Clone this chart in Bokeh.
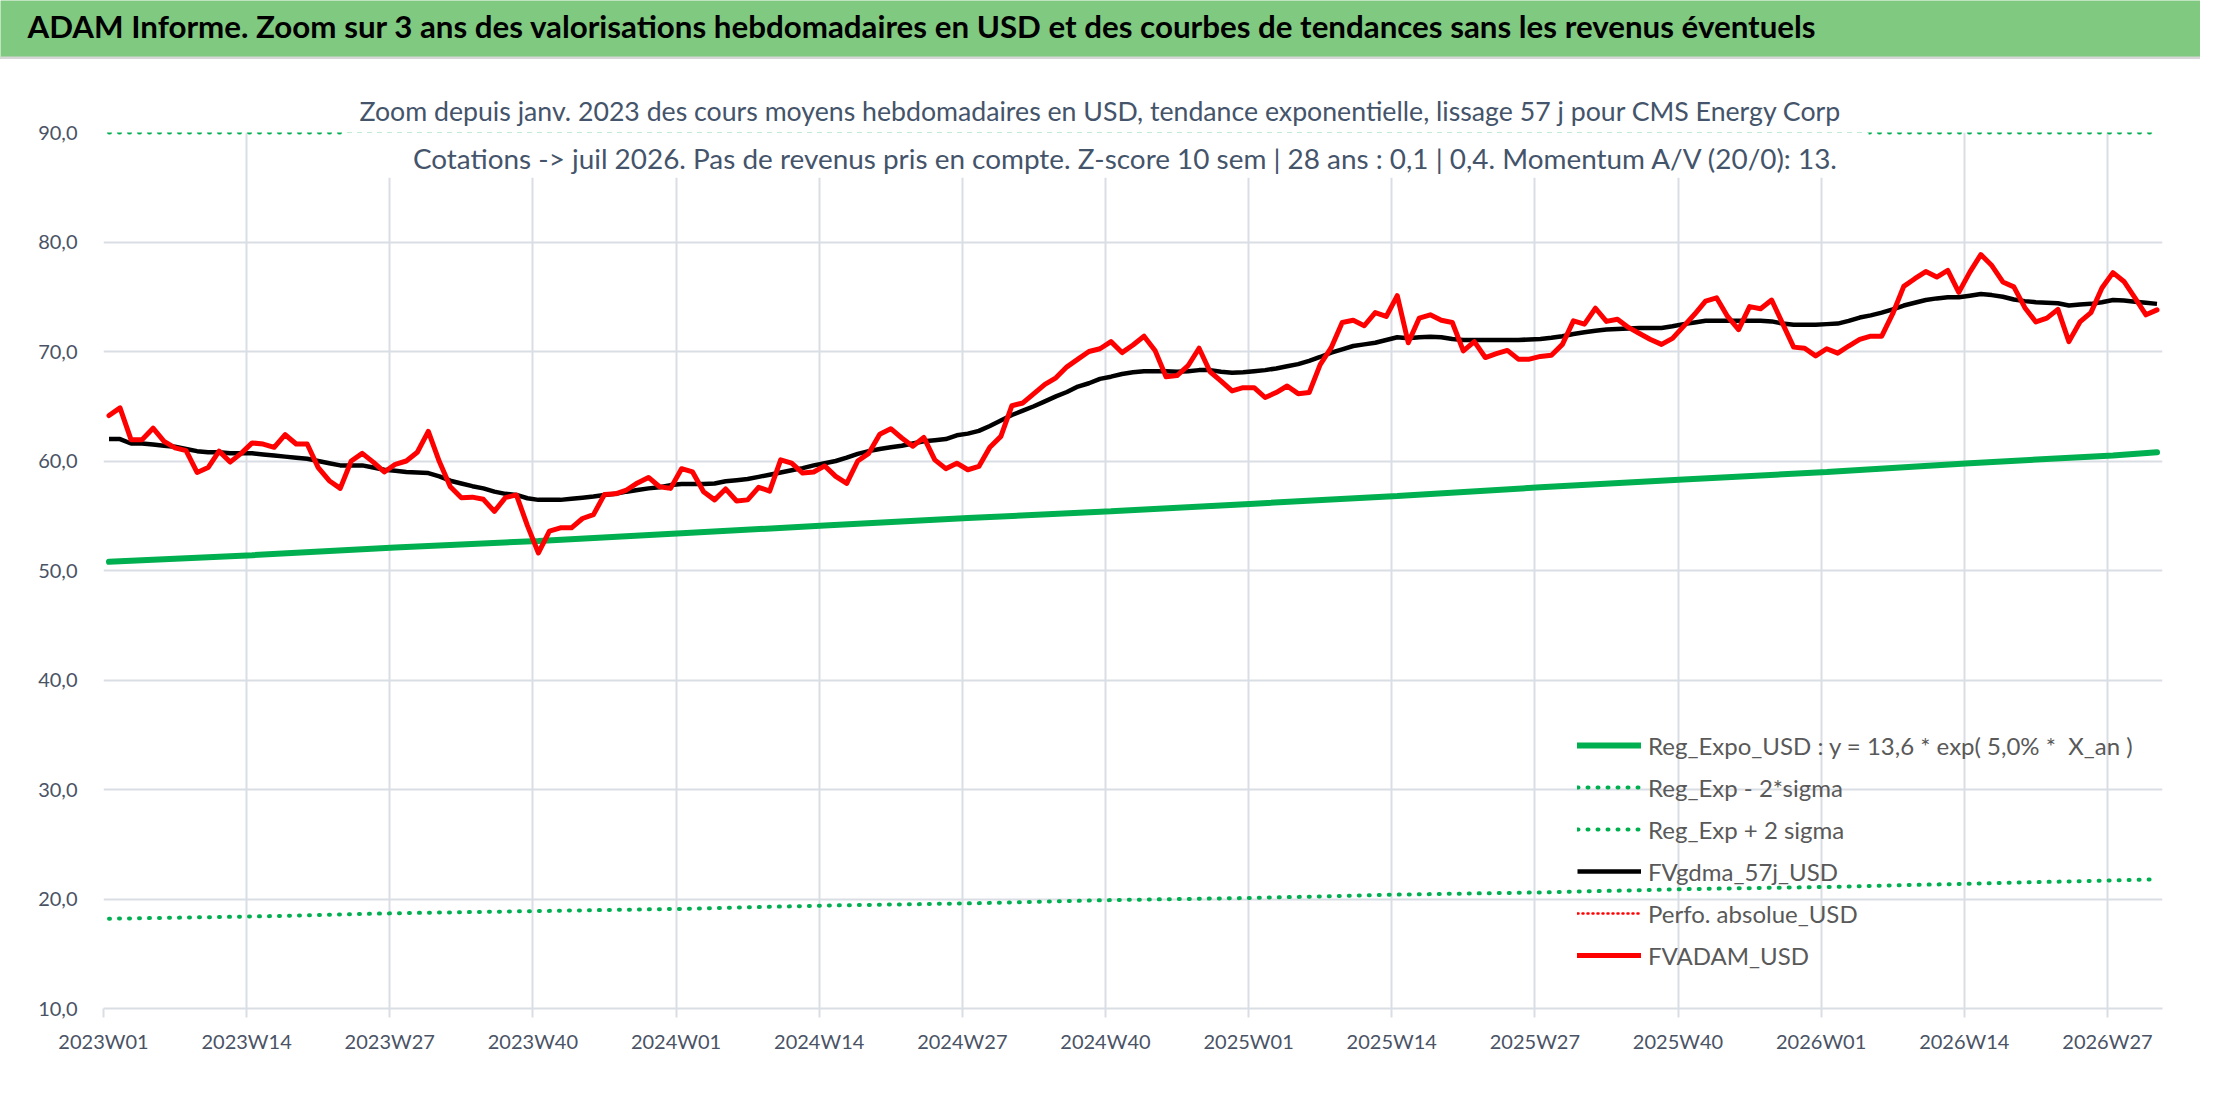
from bokeh.plotting import figure
from bokeh.models import (ColumnDataSource, Range1d, FixedTicker, Legend, LegendItem,
                          Label, BoxAnnotation, Title)
from bokeh.layouts import column
from bokeh.embed import file_html
from bokeh.resources import INLINE

FONT = "Lato"
GRID = "#D9DDE4"
TICK_TXT = "#4A5365"
LEG_TXT = "#595959"
SUB_TXT = "#44546A"

bar_title = ("ADAM Informe. Zoom sur 3 ans des valorisations hebdomadaires en USD "
             "et des courbes de tendances sans les revenus éventuels")
sub1 = ("Zoom depuis janv. 2023 des cours moyens hebdomadaires en USD, tendance "
        "exponentielle, lissage 57 j pour CMS Energy Corp")
sub2 = ("Cotations -> juil 2026. Pas de revenus pris en compte. Z-score 10 sem | "
        "28 ans : 0,1 | 0,4. Momentum A/V (20/0): 13.")

# weekly categories 2023W01 .. 2026W31
weeks = [f"{yr}W{w:02d}" for yr, n in ((2023, 52), (2024, 52), (2025, 52), (2026, 31))
         for w in range(1, n + 1)]

# FVADAM_USD (red)
fvadam = [
    64.15, 64.85, 61.95, 61.95, 63.0, 61.8, 61.2, 60.95, 58.95, 59.4,
    60.9, 59.9, 60.7, 61.65, 61.55, 61.25, 62.4, 61.55, 61.55, 59.4,
    58.2, 57.5, 60.0, 60.7, 59.9, 59.0, 59.7, 60.0, 60.8, 62.7,
    59.95, 57.65, 56.65, 56.7, 56.5, 55.4, 56.65, 56.9, 54.1, 51.6,
    53.6, 53.9, 53.9, 54.75, 55.1, 56.95, 57.0, 57.35, 58.0, 58.5,
    57.65, 57.5, 59.3, 59.0, 57.2, 56.45, 57.45, 56.35, 56.45, 57.6,
    57.25, 60.1, 59.8, 58.9, 59.0, 59.55, 58.6, 57.95, 60.0, 60.7,
    62.45, 62.95, 62.1, 61.35, 62.15, 60.1, 59.3, 59.8, 59.2, 59.5,
    61.25, 62.25, 65.05, 65.3, 66.15, 67.0, 67.6, 68.6, 69.3, 70.0,
    70.25, 70.9, 69.9, 70.6, 71.4, 70.1, 67.7, 67.8, 68.7, 70.3,
    68.15, 67.3, 66.4, 66.7, 66.7, 65.8, 66.25, 66.85, 66.15, 66.25,
    68.8, 70.35, 72.65, 72.85, 72.35, 73.55, 73.2, 75.1, 70.8, 73.05,
    73.35, 72.85, 72.65, 70.05, 70.9, 69.45, 69.8, 70.1, 69.3, 69.3,
    69.55, 69.65, 70.65, 72.8, 72.5, 73.95, 72.75, 72.95, 72.2, 71.65,
    71.1, 70.65, 71.2, 72.3, 73.4, 74.6, 74.9, 73.2, 72.0, 74.1,
    73.9, 74.7, 72.55, 70.4, 70.3, 69.6, 70.25, 69.85, 70.5, 71.1,
    71.4, 71.4, 73.45, 75.95, 76.65, 77.3, 76.8, 77.4, 75.4, 77.25,
    78.85, 77.85, 76.35, 75.9, 74.0, 72.7, 73.05, 73.85, 70.9, 72.7,
    73.55, 75.8, 77.2, 76.4, 74.9, 73.35, 73.8,
]

# FVgdma_57j_USD (black)
fvgdma = [
    62.0, 62.0, 61.6, 61.6, 61.5, 61.4, 61.3, 61.1, 60.9, 60.8,
    60.8, 60.7, 60.7, 60.7, 60.6, 60.5, 60.4, 60.3, 60.2, 60.0,
    59.8, 59.6, 59.6, 59.6, 59.4, 59.2, 59.1, 59.0, 58.95, 58.9,
    58.6, 58.2, 57.95, 57.7, 57.5, 57.2, 57.0, 56.9, 56.6, 56.45,
    56.45, 56.45, 56.55, 56.65, 56.75, 56.9, 57.0, 57.2, 57.35, 57.5,
    57.6, 57.8, 57.9, 57.9, 57.9, 57.95, 58.15, 58.25, 58.35, 58.55,
    58.75, 58.95, 59.15, 59.35, 59.6, 59.8, 60.0, 60.3, 60.65, 60.9,
    61.1, 61.25, 61.4, 61.6, 61.8, 61.9, 62.0, 62.35, 62.5, 62.75,
    63.2, 63.7, 64.2, 64.6, 65.0, 65.45, 65.9, 66.3, 66.8, 67.1,
    67.5, 67.7, 67.95, 68.1, 68.2, 68.2, 68.2, 68.15, 68.2, 68.3,
    68.3, 68.15, 68.05, 68.1, 68.2, 68.3, 68.45, 68.65, 68.85, 69.15,
    69.5, 69.9, 70.2, 70.5, 70.65, 70.8, 71.05, 71.3, 71.2, 71.3,
    71.35, 71.3, 71.15, 71.05, 71.05, 71.05, 71.05, 71.05, 71.05, 71.1,
    71.15, 71.25, 71.4, 71.6, 71.75, 71.9, 72.0, 72.05, 72.1, 72.15,
    72.15, 72.15, 72.3, 72.5, 72.65, 72.8, 72.8, 72.8, 72.8, 72.8,
    72.8, 72.75, 72.55, 72.45, 72.45, 72.45, 72.5, 72.55, 72.8, 73.1,
    73.3, 73.55, 73.85, 74.2, 74.45, 74.7, 74.85, 74.95, 74.95, 75.1,
    75.25, 75.15, 75.0, 74.75, 74.6, 74.5, 74.45, 74.4, 74.2, 74.3,
    74.35, 74.5, 74.7, 74.65, 74.55, 74.45, 74.35,
]

# regression curves, read every 13 weeks plus the last week
reg_idx = [0, 13, 26, 39, 52, 65, 78, 91, 104, 117, 130, 143, 156, 169, 182, 186]
reg_expo = [50.8, 51.4, 52.1, 52.7, 53.4, 54.1, 54.8, 55.4, 56.1, 56.8,
            57.6, 58.3, 59.0, 59.8, 60.5, 60.8]
reg_low = [18.2, 18.4, 18.7, 18.9, 19.1, 19.4, 19.6, 19.9, 20.1, 20.4,
           20.6, 20.9, 21.1, 21.4, 21.7, 21.8]
reg_high = [90.0, 90.0, 90.0, 90.0, 90.0, 90.0, 90.0, 90.0, 90.0, 90.0,
            90.0, 90.0, 90.0, 90.0, 90.0, 90.0]
# Perfo. absolue_USD: no point inside the visible scale
perfo = [float("nan")]

y_ticks = [10, 20, 30, 40, 50, 60, 70, 80, 90]
y_labels = ["10,0", "20,0", "30,0", "40,0", "50,0", "60,0", "70,0", "80,0", "90,0"]
x_ticks = list(range(0, len(weeks), 13))

# ---- green header bar
head = figure(width=2200, height=59, x_range=Range1d(0, 2200), y_range=Range1d(0, 59),
              toolbar_location=None, output_backend="svg", min_border=0,
              x_axis_location=None, y_axis_location=None)
head.frame_align = False
head.grid.visible = False
head.background_fill_color = "#80C980"
head.border_fill_color = "#80C980"
head.outline_line_color = None
head.add_layout(BoxAnnotation(bottom=0, top=3, fill_color="#D6D6D6", fill_alpha=1,
                              line_color=None))
head.add_layout(Label(x=27, y=34, text=bar_title, text_font=FONT, text_font_style="bold",
                      text_font_size="31.3px", text_color="black", text_baseline="middle"))

# ---- main chart
p = figure(width=2200, height=1027, x_range=Range1d(0, len(weeks)), y_range=Range1d(10, 90),
           toolbar_location=None, output_backend="svg",
           min_border_left=103, min_border_right=38, min_border_top=73, min_border_bottom=78)
p.frame_align = False
p.outline_line_color = None
p.background_fill_color = "white"

t1 = Title(text=sub1, align="left", offset=256, standoff=11, text_font=FONT,
           text_font_size="26.7px", text_font_style="normal", text_color=SUB_TXT)
p.add_layout(t1, "above")

p.grid.grid_line_color = GRID
p.grid.grid_line_width = 2
p.xaxis.ticker = FixedTicker(ticks=x_ticks)
p.xaxis.major_label_overrides = {t: weeks[t] for t in x_ticks}
p.yaxis.ticker = FixedTicker(ticks=y_ticks)
p.yaxis.major_label_overrides = dict(zip(y_ticks, y_labels))

p.axis.major_label_text_font = FONT
p.axis.major_label_text_font_size = "20px"
p.axis.major_label_text_color = TICK_TXT
p.axis.minor_tick_line_color = None
p.xaxis.axis_line_color = GRID
p.xaxis.axis_line_width = 2
p.xaxis.major_tick_line_color = GRID
p.xaxis.major_tick_line_width = 2
p.xaxis.major_tick_out = 9
p.xaxis.major_tick_in = 0
p.xaxis.major_label_standoff = 11
p.yaxis.axis_line_color = None
p.yaxis.major_tick_line_color = None
p.yaxis.major_label_standoff = 20

xs = [i + 0.5 for i in range(len(weeks))]
src = ColumnDataSource(dict(x=xs, red=fvadam, black=fvgdma))
reg = ColumnDataSource(dict(x=[i + 0.5 for i in reg_idx], expo=reg_expo, low=reg_low, high=reg_high))
perfo_src = ColumnDataSource(dict(x=xs[:len(perfo)], y=perfo))

r_expo = p.line("x", "expo", source=reg, line_color="#00B050", line_width=6, line_cap="round")
r_low = p.line("x", "low", source=reg, line_color="#00B050", line_width=4,
               line_dash="1 9", line_cap="round")
r_high = p.line("x", "high", source=reg, line_color="#00B050", line_width=4,
                line_dash="1 9", line_cap="round")
r_black = p.line("x", "black", source=src, line_color="black", line_width=4.5, line_join="round")
r_perfo = p.line("x", "y", source=perfo_src, line_color="#FF0000", line_width=2.5,
                 line_dash="1 4", line_cap="round")
r_red = p.line("x", "red", source=src, line_color="#FF0000", line_width=5,
               line_join="round", line_cap="round")

# white box of the chart title over the top of the plot area
p.add_layout(BoxAnnotation(left=21.66, right=160.3, bottom=85.87, top=90.6,
                           fill_color="white", fill_alpha=1, line_color=None))
p.add_layout(Label(x=28.1, y=87.65, text=sub2, text_font=FONT, text_font_size="27.9px",
                   text_color=SUB_TXT, text_align="left", text_baseline="middle"))

legend = Legend(items=[
    LegendItem(label="Reg_Expo_USD : y = 13,6 * exp( 5,0% *  X_an )", renderers=[r_expo]),
    LegendItem(label="Reg_Exp - 2*sigma", renderers=[r_low]),
    LegendItem(label="Reg_Exp + 2 sigma", renderers=[r_high]),
    LegendItem(label="FVgdma_57j_USD", renderers=[r_black]),
    LegendItem(label="Perfo. absolue_USD", renderers=[r_perfo]),
    LegendItem(label="FVADAM_USD", renderers=[r_red]),
], location=(1474, 38))
legend.border_line_color = None
legend.background_fill_alpha = 0
legend.padding = 0
legend.margin = 0
legend.spacing = 12
legend.glyph_width = 64
legend.glyph_height = 30
legend.label_height = 30
legend.label_standoff = 7
legend.label_text_font = FONT
legend.label_text_font_size = "24px"
legend.label_text_color = LEG_TXT
p.add_layout(legend)

page = column(head, p, spacing=0)
open("out.html", "w").write(file_html(page, INLINE))
